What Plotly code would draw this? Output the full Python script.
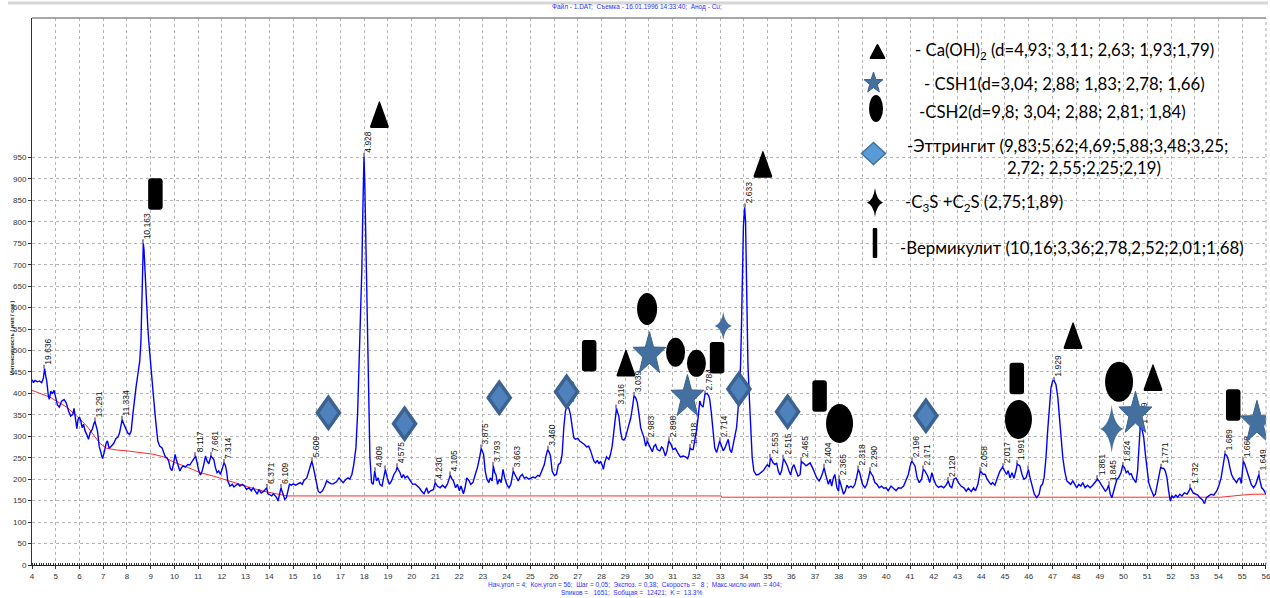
import math
import plotly.graph_objects as go

# ---------------- diffraction pattern: 2-theta (deg) and counts / s ----------------
two_theta = [
    4.01, 4.06, 4.13, 4.23, 4.31, 4.41, 4.48, 4.53, 4.58, 4.62, 4.69, 4.73, 4.79, 4.86, 4.93,
    5.00, 5.07, 5.15, 5.25, 5.35, 5.44, 5.54, 5.63, 5.72, 5.77, 5.83, 5.89, 5.94, 6.00, 6.06,
    6.11, 6.17, 6.24, 6.31, 6.38, 6.45, 6.54, 6.60, 6.65, 6.70, 6.76, 6.83, 6.92, 6.97, 7.04,
    7.13, 7.18, 7.25, 7.34, 7.44, 7.54, 7.62, 7.69, 7.75, 7.80, 7.86, 7.94, 8.03, 8.11, 8.18,
    8.25, 8.32, 8.39, 8.46, 8.54, 8.59, 8.63, 8.66, 8.69, 8.72, 8.76, 8.82, 8.88, 8.92, 8.99,
    9.10, 9.20, 9.30, 9.38, 9.48, 9.55, 9.62, 9.69, 9.76, 9.83, 9.90, 9.97, 10.03, 10.08, 10.15,
    10.23, 10.30, 10.37, 10.46, 10.56, 10.65, 10.75, 10.82, 10.89, 10.96, 11.03, 11.10, 11.17, 11.24, 11.31,
    11.38, 11.45, 11.54, 11.60, 11.66, 11.73, 11.80, 11.87, 11.94, 12.01, 12.09, 12.15, 12.20, 12.25, 12.34,
    12.44, 12.51, 12.59, 12.68, 12.76, 12.86, 12.96, 13.04, 13.14, 13.24, 13.32, 13.42, 13.49, 13.56, 13.66,
    13.77, 13.89, 13.94, 14.03, 14.10, 14.17, 14.24, 14.31, 14.37, 14.42, 14.49, 14.58, 14.65, 14.72, 14.79,
    14.85, 14.93, 15.01, 15.11, 15.20, 15.30, 15.39, 15.46, 15.58, 15.68, 15.79, 15.86, 15.96, 16.06, 16.14,
    16.24, 16.34, 16.42, 16.52, 16.62, 16.69, 16.83, 16.94, 17.04, 17.11, 17.23, 17.32, 17.39, 17.48, 17.56,
    17.65, 17.72, 17.79, 17.85, 17.90, 17.94, 17.97, 17.99, 18.02, 18.05, 18.08, 18.12, 18.17, 18.24, 18.31,
    18.38, 18.44, 18.52, 18.59, 18.66, 18.75, 18.80, 18.89, 18.97, 19.06, 19.15, 19.25, 19.34, 19.39, 19.44,
    19.51, 19.58, 19.65, 19.72, 19.82, 19.93, 20.04, 20.14, 20.24, 20.32, 20.42, 20.52, 20.63, 20.70, 20.80,
    20.92, 20.99, 21.08, 21.20, 21.30, 21.41, 21.51, 21.59, 21.63, 21.70, 21.76, 21.85, 21.93, 22.01, 22.08,
    22.18, 22.25, 22.32, 22.41, 22.49, 22.58, 22.68, 22.77, 22.86, 22.93, 23.03, 23.10, 23.17, 23.25, 23.31,
    23.39, 23.44, 23.50, 23.55, 23.62, 23.69, 23.77, 23.85, 23.92, 24.01, 24.10, 24.18, 24.24, 24.28, 24.34,
    24.41, 24.49, 24.58, 24.66, 24.75, 24.83, 24.93, 25.03, 25.11, 25.21, 25.31, 25.39, 25.49, 25.59, 25.66,
    25.73, 25.80, 25.85, 25.92, 26.01, 26.10, 26.18, 26.27, 26.34, 26.41, 26.48, 26.55, 26.62, 26.69, 26.76,
    26.83, 26.90, 27.00, 27.08, 27.18, 27.28, 27.37, 27.46, 27.54, 27.61, 27.68, 27.75, 27.82, 27.89, 27.96,
    28.04, 28.08, 28.13, 28.21, 28.31, 28.38, 28.45, 28.52, 28.58, 28.63, 28.68, 28.73, 28.80, 28.87, 28.94,
    29.01, 29.08, 29.15, 29.23, 29.30, 29.37, 29.44, 29.51, 29.58, 29.65, 29.72, 29.79, 29.86, 29.93, 30.00,
    30.07, 30.14, 30.21, 30.28, 30.35, 30.46, 30.53, 30.59, 30.69, 30.76, 30.83, 30.93, 31.01, 31.11, 31.21,
    31.32, 31.44, 31.54, 31.63, 31.68, 31.73, 31.80, 31.86, 31.93, 32.00, 32.07, 32.14, 32.21, 32.28, 32.36,
    32.45, 32.52, 32.56, 32.62, 32.70, 32.77, 32.85, 32.92, 32.98, 33.06, 33.13, 33.20, 33.27, 33.34, 33.41,
    33.48, 33.55, 33.61, 33.69, 33.75, 33.80, 33.86, 33.90, 33.94, 33.98, 34.03, 34.07, 34.10, 34.13, 34.17,
    34.23, 34.28, 34.35, 34.42, 34.52, 34.61, 34.70, 34.82, 34.90, 34.99, 35.07, 35.12, 35.18, 35.23, 35.31,
    35.38, 35.45, 35.52, 35.59, 35.67, 35.75, 35.83, 35.90, 35.97, 36.04, 36.11, 36.20, 36.28, 36.37, 36.42,
    36.48, 36.54, 36.62, 36.70, 36.79, 36.89, 36.99, 37.07, 37.17, 37.24, 37.32, 37.38, 37.45, 37.49, 37.56,
    37.63, 37.70, 37.77, 37.83, 37.92, 37.99, 38.02, 38.08, 38.13, 38.20, 38.27, 38.34, 38.42, 38.51, 38.59,
    38.68, 38.76, 38.82, 38.88, 38.93, 39.00, 39.10, 39.18, 39.25, 39.31, 39.38, 39.44, 39.52, 39.61, 39.70,
    39.80, 39.89, 39.99, 40.08, 40.20, 40.30, 40.41, 40.51, 40.62, 40.73, 40.83, 40.93, 41.00, 41.07, 41.13,
    41.21, 41.30, 41.39, 41.49, 41.56, 41.62, 41.70, 41.75, 41.83, 41.92, 42.00, 42.10, 42.20, 42.31, 42.42,
    42.52, 42.61, 42.68, 42.76, 42.85, 42.94, 43.04, 43.15, 43.27, 43.37, 43.46, 43.58, 43.68, 43.76, 43.86,
    43.96, 44.07, 44.17, 44.25, 44.35, 44.42, 44.48, 44.58, 44.68, 44.79, 44.90, 44.99, 45.07, 45.14, 45.21,
    45.30, 45.38, 45.46, 45.52, 45.58, 45.63, 45.72, 45.80, 45.89, 45.99, 46.06, 46.15, 46.24, 46.34, 46.44,
    46.51, 46.58, 46.65, 46.73, 46.80, 46.87, 46.94, 47.01, 47.07, 47.15, 47.23, 47.30, 47.37, 47.44, 47.52,
    47.61, 47.69, 47.77, 47.86, 47.94, 48.03, 48.11, 48.20, 48.28, 48.38, 48.48, 48.59, 48.70, 48.80, 48.90,
    48.96, 49.04, 49.13, 49.23, 49.30, 49.37, 49.44, 49.51, 49.58, 49.65, 49.72, 49.79, 49.89, 49.96, 50.04,
    50.11, 50.18, 50.25, 50.32, 50.39, 50.46, 50.52, 50.59, 50.65, 50.70, 50.77, 50.85, 50.92, 50.99, 51.06,
    51.13, 51.20, 51.27, 51.34, 51.41, 51.48, 51.56, 51.62, 51.69, 51.76, 51.83, 51.90, 51.97, 52.04, 52.11,
    52.20, 52.28, 52.37, 52.46, 52.56, 52.68, 52.75, 52.82, 52.93, 53.03, 53.13, 53.21, 53.31, 53.41, 53.49,
    53.59, 53.69, 53.80, 53.92, 54.01, 54.11, 54.20, 54.27, 54.34, 54.41, 54.48, 54.55, 54.62, 54.69, 54.76,
    54.83, 54.90, 54.96, 55.00, 55.05, 55.11, 55.20, 55.28, 55.38, 55.48, 55.57, 55.64, 55.70, 55.75, 55.82,
    55.89, 55.96, 56.00,
]
intensity = [
    432, 425, 430, 427, 429, 425, 436, 458, 440, 429, 394, 386, 405, 399, 407,
    390, 373, 368, 382, 386, 378, 359, 347, 351, 365, 342, 318, 339, 345, 335,
    320, 328, 312, 304, 293, 308, 316, 328, 335, 325, 312, 277, 254, 248, 262,
    285, 289, 272, 277, 283, 295, 298, 308, 322, 339, 330, 318, 308, 304, 312,
    351, 390, 417, 444, 475, 520, 600, 680, 750, 735, 680, 600, 555, 522, 467,
    405, 343, 289, 277, 273, 262, 252, 250, 242, 225, 220, 238, 258, 246, 234,
    219, 227, 231, 228, 234, 233, 242, 248, 254, 238, 219, 210, 219, 234, 254,
    242, 236, 254, 250, 246, 227, 215, 219, 211, 223, 238, 232, 219, 196, 184,
    188, 182, 186, 189, 184, 188, 184, 176, 180, 173, 180, 172, 165, 176, 168,
    172, 180, 166, 163, 161, 166, 161, 157, 149, 161, 180, 165, 153, 157, 176,
    188, 186, 189, 186, 188, 192, 188, 197, 203, 223, 242, 227, 200, 172, 168,
    173, 184, 196, 192, 189, 189, 194, 203, 196, 192, 200, 203, 200, 211, 234,
    273, 351, 467, 560, 690, 820, 910, 952, 900, 800, 690, 560, 390, 250, 192,
    188, 219, 196, 203, 188, 184, 200, 223, 203, 188, 196, 211, 219, 228, 222,
    215, 203, 211, 203, 207, 197, 188, 189, 184, 180, 172, 166, 180, 168, 173,
    176, 192, 184, 180, 186, 180, 189, 203, 209, 200, 196, 180, 188, 173, 184,
    166, 180, 203, 197, 188, 192, 211, 227, 250, 272, 258, 219, 200, 192, 203,
    196, 231, 215, 211, 188, 200, 192, 223, 203, 188, 180, 188, 203, 219, 212,
    203, 196, 207, 211, 202, 205, 200, 203, 205, 203, 209, 207, 219, 234, 254,
    269, 262, 254, 219, 209, 211, 234, 238, 258, 320, 359, 370, 366, 351, 320,
    297, 293, 295, 289, 285, 281, 275, 277, 266, 256, 242, 238, 244, 236, 242,
    231, 223, 238, 252, 246, 258, 277, 312, 347, 365, 355, 347, 312, 293, 291,
    297, 312, 328, 342, 366, 394, 390, 378, 351, 320, 308, 297, 277, 289, 280,
    273, 264, 277, 281, 269, 266, 275, 272, 254, 266, 289, 281, 269, 272, 262,
    252, 254, 252, 248, 256, 273, 269, 269, 289, 312, 343, 382, 372, 368, 398,
    400, 394, 386, 359, 312, 273, 262, 277, 289, 277, 266, 273, 285, 293, 269,
    262, 281, 297, 320, 359, 405, 467, 560, 680, 790, 834, 800, 700, 580, 467,
    390, 312, 250, 219, 210, 211, 215, 220, 227, 234, 228, 250, 244, 238, 234,
    238, 219, 210, 220, 248, 240, 231, 219, 210, 227, 234, 219, 207, 211, 242,
    238, 236, 231, 234, 238, 227, 211, 203, 196, 203, 215, 227, 210, 200, 188,
    200, 184, 203, 211, 180, 172, 200, 190, 180, 165, 172, 186, 180, 184, 180,
    188, 207, 223, 215, 203, 188, 180, 188, 203, 219, 212, 207, 192, 188, 180,
    184, 179, 180, 173, 184, 179, 173, 180, 179, 184, 196, 211, 230, 242, 238,
    231, 203, 192, 200, 223, 220, 212, 207, 192, 215, 200, 186, 181, 184, 180,
    186, 196, 184, 180, 200, 203, 192, 184, 180, 172, 179, 171, 180, 173, 188,
    219, 212, 211, 200, 192, 188, 192, 186, 203, 219, 228, 220, 211, 220, 203,
    215, 202, 219, 235, 233, 231, 211, 200, 203, 223, 203, 180, 165, 157, 165,
    184, 188, 203, 250, 312, 374, 413, 429, 430, 421, 390, 343, 289, 250, 219,
    196, 192, 188, 196, 188, 180, 188, 184, 192, 180, 186, 180, 186, 192, 200,
    196, 188, 180, 172, 176, 186, 165, 157, 172, 186, 200, 203, 215, 231, 227,
    215, 219, 211, 213, 203, 196, 192, 219, 281, 320, 318, 297, 258, 219, 192,
    180, 172, 161, 165, 188, 211, 227, 226, 225, 219, 203, 172, 149, 161, 157,
    163, 158, 165, 161, 168, 165, 172, 180, 168, 165, 163, 157, 153, 143, 157,
    161, 165, 163, 172, 184, 203, 234, 258, 256, 246, 227, 211, 203, 197, 192,
    200, 203, 190, 215, 242, 235, 219, 200, 188, 180, 188, 200, 211, 196, 180,
    176, 168, 165,
]

# ---------------- fitted background ----------------
bg_two_theta = [4.01, 4.76, 5.46, 5.89, 6.31, 6.66, 6.87, 7.15, 7.58, 8.00, 8.56, 9.13, 9.55,
                9.97, 10.54, 11.10, 11.66, 12.23, 12.79, 13.35, 13.92, 14.48, 14.76, 33.05,
                33.06, 54.10, 54.50, 55.00, 55.50, 56.00]
bg_intensity = [407, 391, 368, 347, 324, 298, 283, 272, 268, 266, 262, 258, 252,
                240, 228, 215, 207, 197, 186, 178, 170, 163, 161, 161,
                158, 158, 161, 163, 165, 165]

# ---------------- marked reflections (2-theta, counts at the peak, d / A) ----------------
peak_two_theta = [4.50, 6.65, 7.80, 8.69, 10.89, 11.54, 12.09, 13.89, 14.49, 15.79,
                  17.99, 18.44, 18.89, 19.39, 20.99, 21.63, 22.93, 23.44, 24.28, 25.73,
                  26.55, 28.63, 29.37, 29.93, 30.83, 31.73, 32.36, 32.98, 34.03, 35.12,
                  35.67, 36.42, 37.38, 38.02, 38.82, 39.31, 41.07, 41.56, 42.61, 43.96,
                  44.90, 45.52, 45.99, 47.07, 48.90, 49.37, 49.96, 50.70, 51.56, 52.82,
                  54.27, 55.05, 55.70]
peak_counts = [458, 335, 339, 750, 254, 254, 238, 180, 180, 242,
               952, 219, 223, 228, 192, 209, 272, 231, 219, 269,
               370, 365, 394, 289, 289, 273, 398, 289, 834, 250,
               248, 242, 227, 200, 223, 219, 242, 223, 196, 219,
               228, 235, 223, 430, 200, 186, 231, 320, 227, 180,
               258, 242, 211]
peak_d = ["19.636", "13.291", "11.334", "10.163", "8.117", "7.661", "7.314", "6.371", "6.109", "5.609",
          "4.928", "4.809", None, "4.575", "4.230", "4.105", "3.875", "3.793", "3.663", "3.460",
          "3.353", "3.116", "3.039", "2.983", "2.898", "2.818", "2.784", "2.714", "2.633", "2.553",
          "2.515", "2.465", "2.404", "2.365", "2.318", "2.290", "2.196", "2.171", "2.120", "2.058",
          "2.017", "1.991", None, "1.929", "1.861", "1.845", "1.824", "1.799", "1.771", "1.732",
          "1.689", "1.668", "1.649"]

# ---------------- phase markers (centre 2-theta, centre counts) ----------------
caoh2_x = [18.64, 34.80, 29.03, 47.87, 51.24]
caoh2_y = [1051, 935, 472, 536, 438]
csh1_x = [30.02, 31.62, 50.50, 55.62]
csh1_y = [496, 396, 357, 336]
csh2_x = [29.92, 31.12, 32.00, 38.03, 45.57, 49.81]
csh2_y = [597, 496, 470, 330, 339, 427]
csh2_size = [(20, 32), (19, 29), (19, 27), (27, 39), (27, 39), (28, 40)]
ettr_x = [16.49, 19.70, 23.69, 26.53, 33.79, 35.84, 41.67]
ettr_y = [355, 329, 390, 404, 410, 357, 348]
c3s_x = [33.13, 49.50]
c3s_y = [557, 317]
c3s_size = [(17, 28), (23, 48)]
verm_x = [9.20, 27.48, 32.87, 37.19, 45.50, 54.62]
verm_y = [865, 488, 483, 394, 435, 373]

legend_rows = [
    "- Ca(OH)<sub>2</sub> (d=4,93; 3,11; 2,63; 1,93;1,79)",
    "- CSH1(d=3,04; 2,88; 1,83; 2,78; 1,66)",
    "-CSH2(d=9,8; 3,04; 2,88; 2,81; 1,84)",
    "-Эттрингит (9,83;5,62;4,69;5,88;3,48;3,25;",
    "2,72; 2,55;2,25;2,19)",
    "-C<sub>3</sub>S +C<sub>2</sub>S (2,75;1,89)",
    "-Вермикулит (10,16;3,36;2,78,2,52;2,01;1,68)",
]

# ---------------- geometry of the canvas ----------------
W, H = 1270, 598
ML, MR, MT, MB = 32, 4, 18, 33
PW, PH = W - ML - MR, H - MT - MB
Y_TOP = 1275


def paper_x(px):
    return (px - ML) / PW


def paper_y(py):
    return (H - MB - py) / PH


def rounded_polygon(pts, r):
    def toward(a, b, d):
        dx, dy = b[0] - a[0], b[1] - a[1]
        L = math.hypot(dx, dy)
        return (a[0] + dx * d / L, a[1] + dy * d / L)
    n = len(pts)
    corners = []
    for i in range(n):
        p0, p1, p2 = pts[i - 1], pts[i], pts[(i + 1) % n]
        corners.append((toward(p1, p0, r), p1, toward(p1, p2, r)))
    s = "M%.2f,%.2f" % corners[0][2]
    for a, p, b in corners[1:] + corners[:1]:
        s += " L%.2f,%.2f Q%.2f,%.2f %.2f,%.2f" % (a[0], a[1], p[0], p[1], b[0], b[1])
    return s + " Z"


def triangle_path(w, h, r=2.5):
    return rounded_polygon([(0, h / 2), (w / 2, -h / 2), (-w / 2, -h / 2)], r)


def rect_path(w, h, r=3):
    return rounded_polygon([(-w / 2, h / 2), (w / 2, h / 2), (w / 2, -h / 2), (-w / 2, -h / 2)], r)


def diamond_path(w, h):
    return "M0,%.2f L%.2f,0 L0,%.2f L%.2f,0 Z" % (h / 2, w / 2, -h / 2, -w / 2)


def star_path(w, h, inner=0.40):
    rx, ry = w / 1.902, h / 1.809
    pts = []
    for k in range(10):
        ang = math.pi / 2 + k * math.pi / 5
        rr = 1.0 if k % 2 == 0 else inner
        pts.append((rx * rr * math.cos(ang), ry * rr * math.sin(ang)))
    ys = [p[1] for p in pts]
    sh = (max(ys) + min(ys)) / 2
    return "M" + " L".join("%.2f,%.2f" % (p[0], p[1] - sh) for p in pts) + " Z"


def sparkle_path(w, h):
    a, b = w * 0.09, h * 0.09
    hw, hh = w / 2, h / 2
    return ("M0,%.2f Q%.2f,%.2f %.2f,0 Q%.2f,%.2f 0,%.2f Q%.2f,%.2f %.2f,0 Q%.2f,%.2f 0,%.2f Z"
            % (hh, a, b, hw, a, -b, -hh, -a, -b, -hw, -a, b, hh))


def path_shape(path, x, y, fill, line=None, lw=0.0, ref=("x", "y")):
    return dict(type="path", xref=ref[0], yref=ref[1], xsizemode="pixel", ysizemode="pixel",
                xanchor=x, yanchor=y, path=path, fillcolor=fill,
                line=dict(color=line or fill, width=lw), layer="above")


def ellipse_shape(x, y, w, h, fill, ref=("x", "y")):
    return dict(type="circle", xref=ref[0], yref=ref[1], xsizemode="pixel", ysizemode="pixel",
                xanchor=x, yanchor=y, x0=-w / 2, x1=w / 2, y0=-h / 2, y1=h / 2,
                fillcolor=fill, line=dict(color=fill, width=0), layer="above")


BLACK = "#000000"
STAR_FILL, STAR_LINE = "#44709f", "#3a6190"
DIA_FILL, DIA_LINE = "#4f81bd", "#3b6290"

fig = go.Figure()

fig.add_trace(go.Scatter(x=bg_two_theta, y=bg_intensity, mode="lines",
                         line=dict(color="#ff2a2a", width=1), hoverinfo="skip"))
fig.add_trace(go.Scatter(x=two_theta, y=intensity, mode="lines",
                         line=dict(color="#0000ff", width=1.4), hoverinfo="skip"))

# short tick above every indexed reflection
fig.add_trace(go.Bar(x=peak_two_theta, y=[9] * len(peak_two_theta), base=peak_counts,
                     width=0.045, marker=dict(color="#9b8ca8", line=dict(width=0)),
                     hoverinfo="skip"))
# d-spacing labels written vertically above the ticks
lab_x = [x for x, d in zip(peak_two_theta, peak_d) if d]
lab_base = [c for c, d in zip(peak_counts, peak_d) if d]
lab_txt = [d for d in peak_d if d]
fig.add_trace(go.Bar(x=lab_x, y=[9] * len(lab_x), base=lab_base,
                     width=0.04, offset=0.15,
                     marker=dict(color="rgba(0,0,0,0)", line=dict(width=0)),
                     text=lab_txt, textposition="outside", textangle=-90,
                     constraintext="none", cliponaxis=True,
                     textfont=dict(family="Liberation Sans, Arial", size=8.5, color="#111111"),
                     hoverinfo="skip"))

shapes = []
for x, y in zip(caoh2_x, caoh2_y):
    shapes.append(path_shape(triangle_path(20, 28), x, y, BLACK))
for x, y in zip(csh1_x, csh1_y):
    shapes.append(path_shape(star_path(33, 41), x, y, STAR_FILL, STAR_LINE, 1))
for x, y, (w, h) in zip(csh2_x, csh2_y, csh2_size):
    shapes.append(ellipse_shape(x, y, w, h, BLACK))
for x, y in zip(ettr_x, ettr_y):
    shapes.append(path_shape(diamond_path(22, 31), x, y, DIA_FILL, DIA_LINE, 3.5))
for x, y, (w, h) in zip(c3s_x, c3s_y, c3s_size):
    shapes.append(path_shape(sparkle_path(w, h), x, y, STAR_FILL))
for x, y in zip(verm_x, verm_y):
    shapes.append(path_shape(rect_path(14.5, 31.5), x, y, BLACK))

# legend panel backgrounds
for x0, x1, y0, y1 in [(858, 1266, 28, 66), (858, 1236, 66, 98), (858, 1212, 98, 128),
                       (858, 1266, 128, 182), (858, 1083, 182, 224), (858, 1266, 224, 266)]:
    shapes.append(dict(type="rect", xref="paper", yref="paper", layer="between",
                       x0=paper_x(x0), x1=paper_x(x1), y0=paper_y(y1), y1=paper_y(y0),
                       fillcolor="white", line=dict(width=0)))

# legend symbols
P = ("paper", "paper")
shapes.append(path_shape(triangle_path(17, 16, 2), paper_x(877.5), paper_y(51), BLACK, ref=P))
shapes.append(path_shape(star_path(19, 20), paper_x(873.5), paper_y(82), STAR_FILL, STAR_LINE, 1, ref=P))
shapes.append(ellipse_shape(paper_x(876), paper_y(108.5), 14, 27, BLACK, ref=P))
shapes.append(path_shape(diamond_path(24, 22), paper_x(873.5), paper_y(153.5), "#5b9bd5", "#41719c", 1.5, ref=P))
shapes.append(path_shape(sparkle_path(16, 29), paper_x(875), paper_y(202.5), BLACK, ref=P))
shapes.append(path_shape(rect_path(4.5, 30, 1), paper_x(875), paper_y(243), BLACK, ref=P))

# frame pieces
shapes.append(dict(type="line", xref="paper", yref="paper", x0=0, x1=1, y0=1, y1=1,
                   line=dict(color="#8a8a8a", width=1.5), layer="above"))
shapes.append(dict(type="line", xref="paper", yref="paper", x0=1, x1=1, y0=0, y1=1,
                   line=dict(color="#a8a8a8", width=1, dash="3px,3px"), layer="above"))
shapes.append(dict(type="line", xref="paper", yref="paper", x0=paper_x(8), x1=paper_x(1268),
                   y0=paper_y(3), y1=paper_y(3), line=dict(color="#d6d6d6", width=3)))

annotations = []
legend_pos = [(913, 50.5), (922, 83), (917, 111.5), (905, 145), (1005, 167), (903, 203), (898, 248)]
for txt, (px, py) in zip(legend_rows, legend_pos):
    annotations.append(dict(text=txt, xref="paper", yref="paper", x=paper_x(px), y=paper_y(py),
                            xanchor="left", yanchor="middle", showarrow=False,
                            font=dict(family="Lato, Carlito, Calibri, sans-serif", size=16.8, color="black")))

blue_font = dict(family="Liberation Sans, Arial", size=6.5, color="#2f2fff")
annotations.append(dict(text="Файл - 1.DAT;  Съемка - 16.01.1996 14:33:40;  Анод - Cu;",
                        xref="paper", yref="paper", x=paper_x(637), y=paper_y(7.5),
                        xanchor="center", yanchor="middle", showarrow=False, font=blue_font))
annotations.append(dict(text="Нач.угол = 4;  Кон.угол = 56;  Шаг = 0,05;  Экспоз. = 0,38;  "
                             "Скорость =   8 ;  Макс.число имп. = 404;",
                        xref="paper", yref="paper", x=paper_x(635), y=paper_y(585),
                        xanchor="center", yanchor="middle", showarrow=False, font=blue_font))
annotations.append(dict(text="Sпиков =   1651;  Sобщая =  12421;  K =  13.3%",
                        xref="paper", yref="paper", x=paper_x(631), y=paper_y(593),
                        xanchor="center", yanchor="middle", showarrow=False, font=blue_font))
annotations.append(dict(text="<b>Интенсивность ( имп / сек )</b>", textangle=-90,
                        xref="paper", yref="paper", x=paper_x(12), y=paper_y(338),
                        xanchor="center", yanchor="middle", showarrow=False,
                        font=dict(family="Liberation Sans, Arial", size=5.5, color="#222")))

grid = dict(showgrid=True, gridcolor="#b4b4b4", gridwidth=1, griddash="3px,3px")
tickfont = dict(family="Liberation Sans, Arial", size=8, color="#333333")

fig.update_layout(
    width=W, height=H,
    margin=dict(l=ML, r=MR, t=MT, b=MB, pad=0, autoexpand=False),
    paper_bgcolor="white", plot_bgcolor="white",
    showlegend=False, hovermode=False, barmode="overlay",
    shapes=shapes, annotations=annotations,
    xaxis=dict(range=[4, 56.002], tick0=4, dtick=1, **grid, zeroline=False, automargin=False,
               showline=True, linecolor="#222222", linewidth=1, ticklabeloverflow="allow",
               ticks="outside", ticklen=3, tickcolor="#333333", tickfont=tickfont,
               minor=dict(dtick=0.1, ticks="inside", ticklen=2, tickcolor="#333333", showgrid=False)),
    yaxis=dict(range=[0, Y_TOP], tickvals=list(range(0, 1000, 50)), **grid, zeroline=False,
               showline=True, linecolor="#333333", linewidth=1, automargin=False,
               ticks="outside", ticklen=3, tickcolor="#333333", tickfont=tickfont),
)

fig.write_html("out.html")
